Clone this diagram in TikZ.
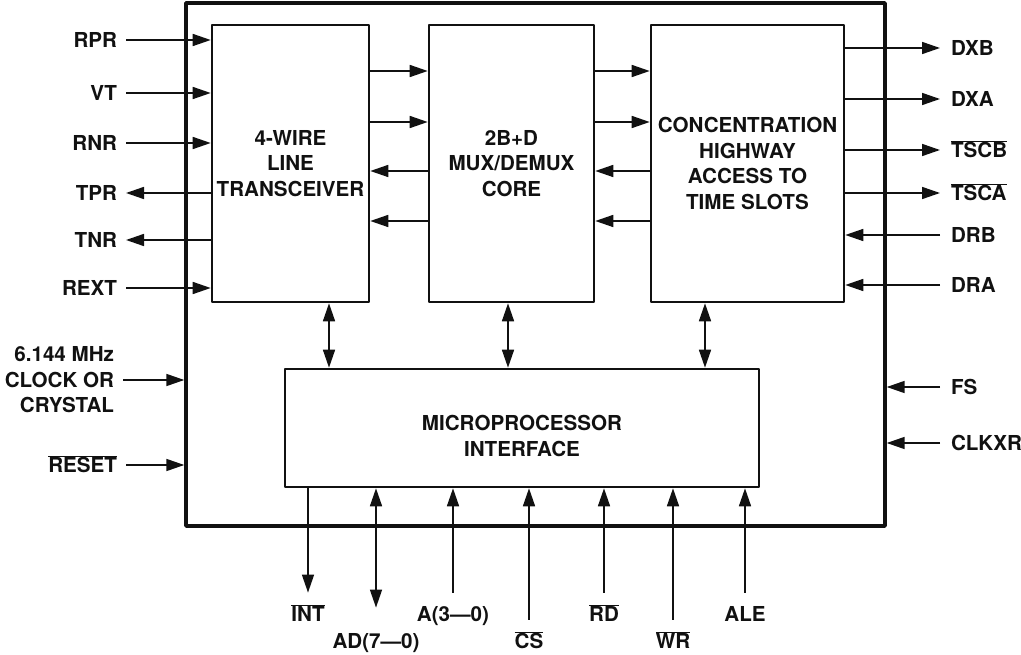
\documentclass[tikz,border=0pt]{standalone}
\usepackage{fontspec}
\setmainfont{TeX Gyre Heros}
\usetikzlibrary{arrows.meta}
\newcommand{\Pin}{1.6pt}
\newcommand{\Edge}{2.6pt}
\newcommand{\Rim}{3.4pt}
\newcommand{\Neg}[1]{$\overline{\mbox{#1}}$}
\definecolor{ink}{HTML}{111111}

\tikzset{
  block/.style={draw=ink, line width=\Edge, align=center, inner sep=0pt, text=ink},
  pin/.style={draw=ink, line width=\Pin},
  lbl/.style={text=ink, inner sep=0pt, text height=14.8pt, text depth=0pt},
  lbll/.style={lbl, anchor=east, outer xsep=9pt, outer ysep=0pt},
  lblr/.style={lbl, anchor=west, outer xsep=11pt, outer ysep=0pt},
  lblb/.style={lbl, outer ysep=14pt, outer xsep=0pt},
}

\begin{document}
\begin{tikzpicture}[x=1pt, y=-1pt, line join=round,
    >={Triangle[length=18pt,width=12pt]},
    font=\fontsize{20.6pt}{25.5pt}\selectfont\bfseries]

  \useasboundingbox (0,0) rectangle (1021,655);

  % ---- the chip and its blocks --------------------------------------------
  \node[block, line width=\Rim, minimum width=699pt, minimum height=523pt] (chip) at (535.5,264.5) {};
  \node[block, minimum width=157pt, minimum height=277pt] (lt) at (290.5,163.5) {4-WIRE\\LINE\\TRANSCEIVER};
  \node[block, minimum width=165pt, minimum height=277pt] (mux) at (511.5,163.5) {2B+D\\MUX/DEMUX\\CORE};
  \node[block, minimum width=193pt, minimum height=277pt] (chw) at (747.5,163.5) {CONCENTRATION\\HIGHWAY\\ACCESS TO\\TIME SLOTS};
  \node[block, minimum width=474pt, minimum height=118pt] (mpi) at (522,428) {};
  % The caption sits a little under the middle of the box.
  \node[text=ink, align=center, inner sep=0pt] (mpitext) at (522,436) {MICROPROCESSOR\\INTERFACE};

  % Two lanes each way between neighbouring blocks.
  \foreach \a/\b in {lt/mux, mux/chw} {
    \foreach \y in {71,122} \draw[pin,->] (\a.east |- 0,\y) -- (\b.west |- 0,\y);
    \foreach \y in {171,221} \draw[pin,<-] (\a.east |- 0,\y) -- (\b.west |- 0,\y);
  }
  % Each block talks to the microprocessor interface both ways.
  \foreach \a/\x in {lt/329, mux/508, chw/705}
    \draw[pin,<->] (\a.south -| \x,0) -- (mpi.north -| \x,0);

  % ---- line side ----------------------------------------------------------
  \foreach \n/\t/\y in {rpr/RPR/40, vt/VT/93, rnr/RNR/143, rext/REXT/288} {
    \node[lbll] (\n) at (126,\y) {\t};
    \draw[pin,->] (\n.east) -- (\n.east -| lt.west);
  }
  \foreach \n/\t/\y in {tpr/TPR/193, tnr/TNR/240} {
    \node[lbll] (\n) at (126,\y) {\t};
    \draw[pin,<-] (\n.east) -- (\n.east -| lt.west);
  }
  \node[anchor=east, inner sep=0pt, outer xsep=9pt, outer ysep=0pt, align=right, text=ink] (clk) at (123,380) {6.144 MHz\\CLOCK OR\\CRYSTAL};
  \draw[pin,->] (clk.east) -- (clk.east -| chip.west);
  \node[lbll] (rst) at (126,465) {\Neg{RESET}};
  \draw[pin,->] (rst.east) -- (rst.east -| chip.west);

  % ---- highway side -------------------------------------------------------
  \foreach \n/\t/\y in {dxb/DXB/48, dxa/DXA/99, tscb/\Neg{TSCB}/150, tsca/\Neg{TSCA}/193} {
    \node[lblr] (\n) at (940,\y) {\t};
    \draw[pin,->] (\n.west -| chw.east) -- (\n.west);
  }
  \foreach \n/\t/\y in {drb/DRB/235, dra/DRA/285} {
    \node[lblr] (\n) at (940,\y) {\t};
    \draw[pin,->] (\n.west) -- (\n.west -| chw.east);
  }
  \foreach \n/\t/\y in {fs/FS/387, clkxr/CLKXR/443} {
    \node[lblr] (\n) at (940,\y) {\t};
    \draw[pin,->] (\n.west) -- (\n.west -| chip.east);
  }

  % ---- microprocessor bus -------------------------------------------------
  \node[lblb] (intr) at (308,614) {\Neg{INT}};
  \draw[pin,->] (intr.north |- mpi.south) -- (intr.north);
  \node[lblb] (ad) at (376,641) {AD(7---0)};
  \draw[pin,<->] (ad.north |- mpi.south) -- ([yshift=12pt]ad.north);
  \foreach \n/\t/\x/\y in {addr/A(3---0)/453/614, cs/\Neg{CS}/529/641, rd/\Neg{RD}/604/614,
                           wr/\Neg{WR}/673/641, ale/ALE/745/614} {
    \node[lblb] (\n) at (\x,\y) {\t};
    \draw[pin,->] (\n.north) -- (\n.north |- mpi.south);
  }

\end{tikzpicture}
\end{document}
